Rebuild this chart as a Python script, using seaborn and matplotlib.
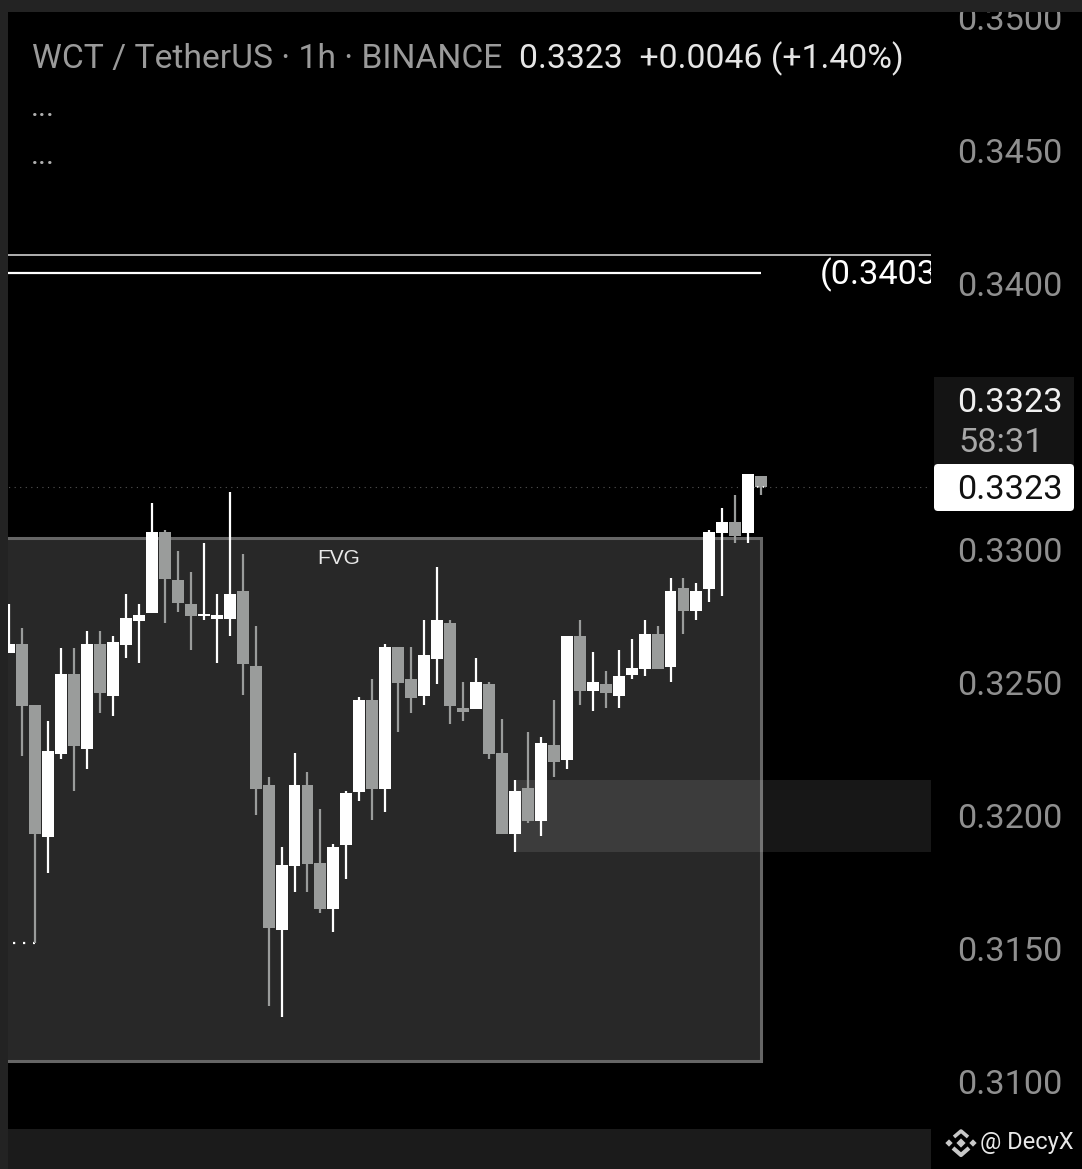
import matplotlib
matplotlib.use('Agg')
import matplotlib.pyplot as plt
import seaborn as sns
import pandas as pd
from matplotlib.patches import FancyBboxPatch, Rectangle

# candles, oldest first (1h WCT/USDT)
body_top = [.32643, .32643, .32414, .32241, .32530, .32530, .32643, .32643, .32650, .32741,
            .32752, .33064, .33064, .32883, .32793, .32756, .32752, .32831, .32842, .32560,
            .32113, .31812, .32113, .32113, .31820, .31880, .32083, .32432, .32432, .32632,
            .32632, .32511, .32602, .32733, .32722, .32402, .32500, .32493, .32233, .32090,
            .32102, .32271, .32263, .32673, .32673, .32500, .32493, .32523, .32553, .32680,
            .32680, .32842, .32853, .32842, .33064, .33101, .33101, .33282, .33274]
body_bottom = [.32610, .32410, .31929, .31919, .32229, .32259, .32249, .32460, .32449, .32640,
               .32730, .32761, .32888, .32798, .32749, .32748, .32738, .32738, .32569, .32098,
               .31576, .31569, .31810, .31816, .31647, .31647, .31887, .32088, .32099, .32099,
               .32496, .32440, .32449, .32588, .32411, .32387, .32399, .32231, .31930, .31930,
               .31979, .31979, .32200, .32208, .32467, .32467, .32460, .32447, .32527, .32550,
               .32550, .32558, .32768, .32768, .32851, .33061, .33050, .33061, .33234]
highs = [.32793, .32702, .32414, .32353, .32630, .32630, .32692, .32692, .32673, .32831,
         .32793, .33173, .33071, .32992, .32912, .33023, .32831, .33214, .32981, .32711,
         .32143, .31880, .32233, .32162, .32023, .31891, .32090, .32443, .32511, .32643,
         .32632, .32632, .32733, .32932, .32733, .32500, .32590, .32500, .32361, .32132,
         .32312, .32293, .32432, .32673, .32733, .32613, .32541, .32620, .32662, .32733,
         .32711, .32891, .32891, .32872, .33071, .33154, .33203, .33282, .33274]
lows = [.32610, .32223, .31520, .31783, .32212, .32091, .32174, .32385, .32373, .32591,
        .32573, .32761, .32723, .32764, .32621, .32734, .32573, .32674, .32452, .32000,
        .31283, .31242, .31711, .31711, .31633, .31561, .31760, .32054, .31982, .32013,
        .32313, .32384, .32414, .32493, .32343, .32353, .32399, .32211, .31930, .31862,
        .31971, .31922, .32144, .32174, .32415, .32392, .32403, .32403, .32512, .32524,
        .32550, .32501, .32682, .32734, .32802, .32824, .33024, .33024, .33204]
is_up = [1, 0, 0, 1, 1, 0, 1, 0, 1, 1, 1, 1, 0, 0, 0, 1, 1, 1, 0, 0,
         0, 1, 1, 0, 0, 1, 1, 1, 0, 1, 0, 0, 1, 1, 0, 0, 1, 0, 0, 1,
         0, 1, 0, 1, 0, 1, 0, 1, 1, 1, 0, 1, 0, 1, 1, 1, 0, 1, 0]

# 0.3350 sits behind the price box in the reference, so it is left out
price_ticks = [.31, .315, .32, .325, .33, .34, .345, .35]
fvg_top, fvg_bottom = .33041, .31075
zone_top, zone_bottom = .32132, .31861
level_upper, level_lower = .34105, .34037
last_price = .33233
old_low = .31520

WHITE = '#ffffff'
GRAY = '#9a9c9b'
BG = '#000000'

df = pd.DataFrame({'i': range(len(body_top)), 'top': body_top, 'bottom': body_bottom,
                   'high': highs, 'low': lows, 'up': is_up})
df['height'] = df['top'] - df['bottom']

sns.set_theme(style='dark')
plt.rcParams['font.family'] = ['Roboto', 'DejaVu Sans']

fig = plt.figure(figsize=(10.82, 11.69), dpi=100, facecolor=BG)
W, H = 1082, 1169
ax = fig.add_axes([8 / W, 1 - 1129 / H, (931 - 8) / W, (1129 - 12) / H], facecolor=BG)

last_x = len(df) - 1

# FVG box and the lighter zone
ax.add_patch(Rectangle((-0.5, fvg_bottom), last_x + 0.5, fvg_top - fvg_bottom, facecolor='#282828',
                       edgecolor='#666666', lw=2.2, zorder=1))
ax.add_patch(Rectangle((39, zone_bottom), 40, zone_top - zone_bottom, facecolor='#ffffff',
                       alpha=0.095, lw=0, zorder=1.5))

ax.hlines(level_upper, -0.5, 80, color='#b0b0b0', lw=1.4, zorder=2)
ax.hlines(level_lower, -0.5, last_x, color=WHITE, lw=1.6, zorder=2)
ax.hlines(last_price, -0.5, 80, color='#555555', lw=0.8, ls=(0, (1, 4)), zorder=2)
ax.hlines(last_price, 57.2, 58.2, color=WHITE, lw=1.2, ls=(0, (1, 2.5)), zorder=6)
ax.hlines(old_low, -0.5, 2, color=WHITE, lw=1.6, ls=(0, (1, 3.5)), zorder=3)

ups = df[df['up'] == 1]
downs = df[df['up'] == 0]
ax.vlines(downs['i'], downs['low'], downs['high'], color=GRAY, lw=1.6, zorder=3)
ax.vlines(ups['i'], ups['low'], ups['high'], color=WHITE, lw=1.6, zorder=3)
sns.barplot(data=downs, x='i', y='height', bottom=downs['bottom'].values, native_scale=True,
            color=GRAY, saturation=1, width=0.92, errorbar=None, ax=ax, zorder=4, lw=0)
sns.barplot(data=ups, x='i', y='height', bottom=ups['bottom'].values, native_scale=True,
            color=WHITE, saturation=1, width=0.92, errorbar=None, ax=ax, zorder=4, lw=0)

ax.set_xlim(-0.1, 71.09)
ax.set_ylim(.30820, .35019)
ax.set_xlabel('')
ax.set_ylabel('')
ax.set_xticks([])
ax.grid(False)
ax.yaxis.tick_right()
ax.set_yticks(price_ticks)
ax.set_yticklabels([f'{p:.4f}' for p in price_ticks])
ax.tick_params(axis='y', length=0, pad=18.5, labelsize=24.7, labelcolor='#8f8f8f')
sns.despine(ax=ax, left=True, bottom=True, right=True, top=True)

fvg_x = (339 - 9.3) / 12.966
ax.text(fvg_x, .32966, 'FVG', color='#e8e8e8', fontsize=15, family='Liberation Sans',
        ha='center', va='center', zorder=5)
ax.text((820 - 9.3) / 12.966, .34030, '(0.3403', color=WHITE, fontsize=24.7,
        ha='left', va='center', clip_on=True, zorder=5)

# overlay in pixel coordinates for the chrome around the chart
ov = fig.add_axes([0, 0, 1, 1], facecolor='none', zorder=5)
ov.set_xlim(0, W)
ov.set_ylim(H, 0)
ov.axis('off')
ov.add_patch(Rectangle((0, 0), 8, H, facecolor='#232323', lw=0))
ov.add_patch(Rectangle((0, 0), W, 12, facecolor='#232323', lw=0))
ov.add_patch(Rectangle((8, 1129), 923, 40, facecolor='#1b1b1b', lw=0))
ov.add_patch(Rectangle((934, 377), 140, 90, facecolor='#141414', lw=0))
ov.add_patch(FancyBboxPatch((936, 466), 136, 43, boxstyle='round,pad=2,rounding_size=4',
                            facecolor=WHITE, lw=0))
ov.text(32, 59, 'WCT / TetherUS · 1h · BINANCE', color='#9a9a9a', fontsize=24.2, va='center')
ov.text(519, 59, '0.3323  +0.0046 (+1.40%)', color='#e6e6e6', fontsize=24.3, va='center')
ov.text(31, 108, '...', color='#b0b0b0', fontsize=22, va='center')
ov.text(31, 156, '...', color='#b0b0b0', fontsize=22, va='center')
ov.text(957, 403, '0.3323', color='#f0f0f0', fontsize=24.7, va='center')
ov.text(958, 443, '58:31', color='#a8a8a8', fontsize=24.7, va='center')
ov.text(957, 490, '0.3323', color='#111111', fontsize=24.7, va='center')
ov.text(980, 1143, '@ DecyX', color='#e8e8e8', fontsize=17, va='center')
# binance mark
ov.scatter([961, 949, 973], [1143, 1143, 1143], marker='D', s=[22, 14, 14], color='#c8c8c8', lw=0)
ov.plot([954, 961, 968], [1137, 1131, 1137], color='#c8c8c8', lw=2.6, solid_capstyle='butt')
ov.plot([953, 961, 969], [1148, 1155, 1148], color='#c8c8c8', lw=3, solid_capstyle='butt')

fig.savefig('out.png', dpi=100, facecolor=BG)
